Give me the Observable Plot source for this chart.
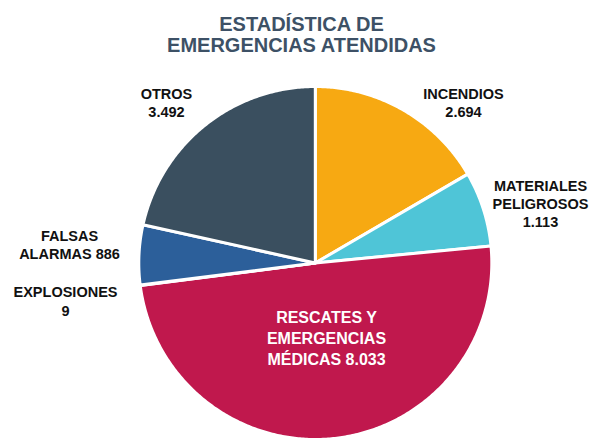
<!DOCTYPE html>
<html>
<head>
<meta charset="utf-8">
<script src="https://cdn.jsdelivr.net/npm/d3@7"></script>
<script src="https://cdn.jsdelivr.net/npm/@observablehq/plot@0.6"></script>
<style>
  html, body { margin: 0; padding: 0; background: #fff; }
  svg { font-family: "Liberation Sans", Arial, sans-serif; }
</style>
</head>
<body>
<div id="chart"></div>
<script>
// Data
const categories = ["INCENDIOS", "MATERIALES PELIGROSOS", "RESCATES Y EMERGENCIAS MÉDICAS", "EXPLOSIONES", "FALSAS ALARMAS", "OTROS"];
const values = [2694, 1113, 8033, 9, 886, 3492];
const valueLabels = ["2.694", "1.113", "8.033", "9", "886", "3.492"];
const sliceColors = ["#F7A912", "#4FC5D7", "#C0184D", "#8A8A8A", "#2C5F9A", "#3A4F5F"];
const titleLines = ["ESTADÍSTICA DE", "EMERGENCIAS ATENDIDAS"];

// Pie geometry (unit circle, y up)
const pie = d3.pie().sort(null).value(d => d.value)(categories.map((c, i) => ({name: c, value: values[i]})));
const pts = [];
for (const s of pie) {
  const name = s.data.name;
  pts.push({name, x: 0, y: 0});
  const n = Math.max(2, Math.ceil((s.endAngle - s.startAngle) / 0.01));
  for (let k = 0; k <= n; k++) {
    const a = s.startAngle + (s.endAngle - s.startAngle) * k / n;
    pts.push({name, x: Math.sin(a), y: Math.cos(a)});
  }
}

// Label layout (pixel positions of the reference converted to unit coords)
const cx = 314.8, cy = 262.5, R = 176.5;
const ux = px => (px - cx) / R;
const uy = py => (cy - py) / R;

const outer = [
  {text: "INCENDIOS\n" + valueLabels[0], x: 463, y: 116.7},
  {text: "MATERIALES\nPELIGROSOS\n" + valueLabels[1], x: 540, y: 226.7},
  {text: "EXPLOSIONES\n" + valueLabels[3], x: 65, y: 315},
  {text: "FALSAS\nALARMAS " + valueLabels[4], x: 69, y: 258.3},
  {text: "OTROS\n" + valueLabels[5], x: 166, y: 116.7}
].map(d => ({...d, x: ux(d.x), y: uy(d.y)}));

const inner = [{text: "RESCATES Y\nEMERGENCIAS\nMÉDICAS " + valueLabels[2], x: ux(326), y: uy(364)}];
const title = [{text: titleLines.join("\n"), x: ux(301), y: uy(51.7)}];

const chart = Plot.plot({
  width: 593,
  height: 438,
  margin: 0,
  x: {domain: [-1, 1], range: [cx - R, cx + R], axis: null},
  y: {domain: [-1, 1], range: [cy + R, cy - R], axis: null},
  color: {domain: categories, range: sliceColors},
  marks: [
    Plot.line(pts, {x: "x", y: "y", z: "name", fill: "name", stroke: "white", strokeWidth: 3, strokeLinejoin: "round", curve: "linear-closed"}),
    Plot.text(outer, {x: "x", y: "y", text: "text", lineAnchor: "bottom", textAnchor: "middle", fontSize: 14.5, fontWeight: "bold", fill: "#111", lineHeight: 1.25}),
    Plot.text(inner, {x: "x", y: "y", text: "text", lineAnchor: "bottom", textAnchor: "middle", fontSize: 16, fontWeight: "bold", fill: "white", lineHeight: 1.3}),
    Plot.text(title, {x: "x", y: "y", text: "text", lineAnchor: "bottom", textAnchor: "middle", fontSize: 20, fontWeight: "bold", fill: "#3D5166", lineHeight: 1.05})
  ]
});
document.getElementById("chart").appendChild(chart);
</script>
</body>
</html>
